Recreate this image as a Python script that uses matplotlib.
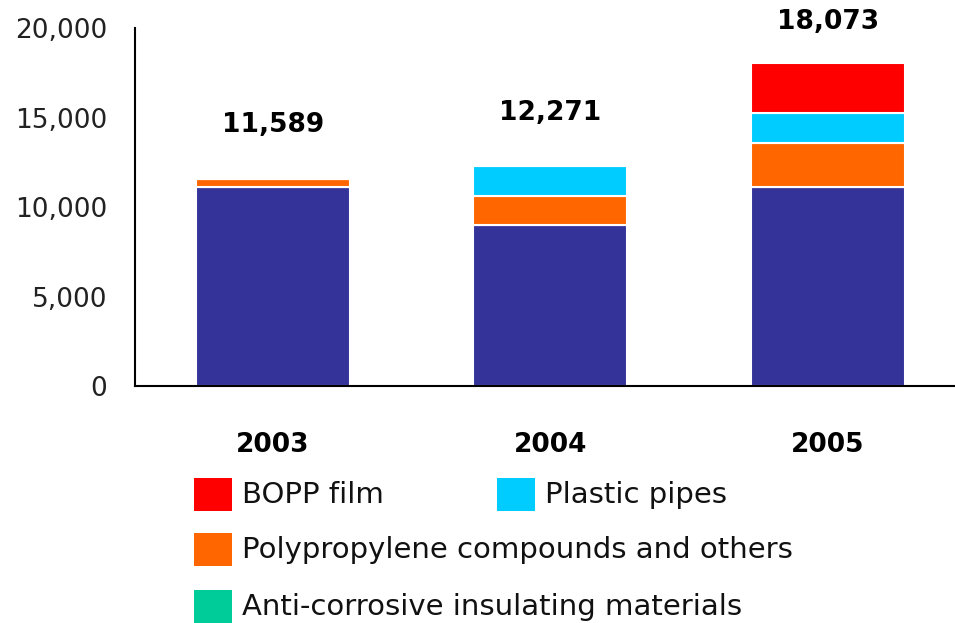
import matplotlib.pyplot as plt
from matplotlib.patches import Rectangle
from matplotlib.ticker import FuncFormatter

years = ["2003", "2004", "2005"]
base = [11120, 9000, 11120]
pp_compounds = [469, 1620, 2456]
plastic_pipes = [0, 1651, 1676]
bopp_film = [0, 0, 2821]
anti_corrosive = [0, 0, 0]
totals = [11589, 12271, 18073]

legend_labels = ["BOPP film", "Plastic pipes",
                 "Polypropylene compounds and others",
                 "Anti-corrosive insulating materials"]

c_base = "#333399"
c_pp = "#FF6600"
c_pipes = "#00CCFF"
c_bopp = "#FF0000"
c_anti = "#00CC99"

plt.rcParams["font.family"] = ["DejaVu Sans"]

fig = plt.figure(figsize=(9.55, 6.23), dpi=100)
ax = fig.add_axes([0.1414, 0.3804, 0.8586, 0.5746])

x = list(range(len(years)))
w = 0.555
bottom = [0] * len(years)
for vals, col in [(base, c_base), (anti_corrosive, c_anti), (pp_compounds, c_pp),
                  (plastic_pipes, c_pipes), (bopp_film, c_bopp)]:
    ax.bar(x, vals, w, bottom=bottom, color=col, edgecolor="white", linewidth=1.5)
    bottom = [b + v for b, v in zip(bottom, vals)]

# total labels above the stacks, kept inside the top margin
for xi, t in zip(x, totals):
    ax.text(xi, min(t + 3000, 20350), f"{t:,}", ha="center", va="center",
            fontsize=19, fontweight="bold", clip_on=False)

ax.set_xlim(-0.497, 2.458)
ax.set_ylim(0, 20000)
ax.set_yticks([0, 5000, 10000, 15000, 20000])
ax.yaxis.set_major_formatter(FuncFormatter(lambda v, p: f"{int(v):,}"))
ax.set_xticks(x)
ax.set_xticklabels(years, fontweight="bold")
ax.tick_params(axis="y", length=0, pad=20, labelsize=19, labelcolor="#222222")
ax.tick_params(axis="x", length=0, pad=33, labelsize=19)
for s in ["top", "right"]:
    ax.spines[s].set_visible(False)
for s in ["left", "bottom"]:
    ax.spines[s].set_linewidth(1.5)

# legend built by hand in figure pixel space
W, H = 955, 623
def legend_item(px, py, color, label):
    fig.add_artist(Rectangle((px / W, 1 - (py + 33) / H), 38 / W, 33 / H,
                             transform=fig.transFigure, color=color, lw=0))
    fig.text((px + 48) / W, 1 - (py + 17) / H, label, fontsize=21,
             va="center", ha="left", color="#111111")

legend_item(194, 478, c_bopp, legend_labels[0])
legend_item(497, 478, c_pipes, legend_labels[1])
legend_item(194, 533, c_pp, legend_labels[2])
legend_item(194, 590, c_anti, legend_labels[3])

fig.savefig("out.png", dpi=100)
